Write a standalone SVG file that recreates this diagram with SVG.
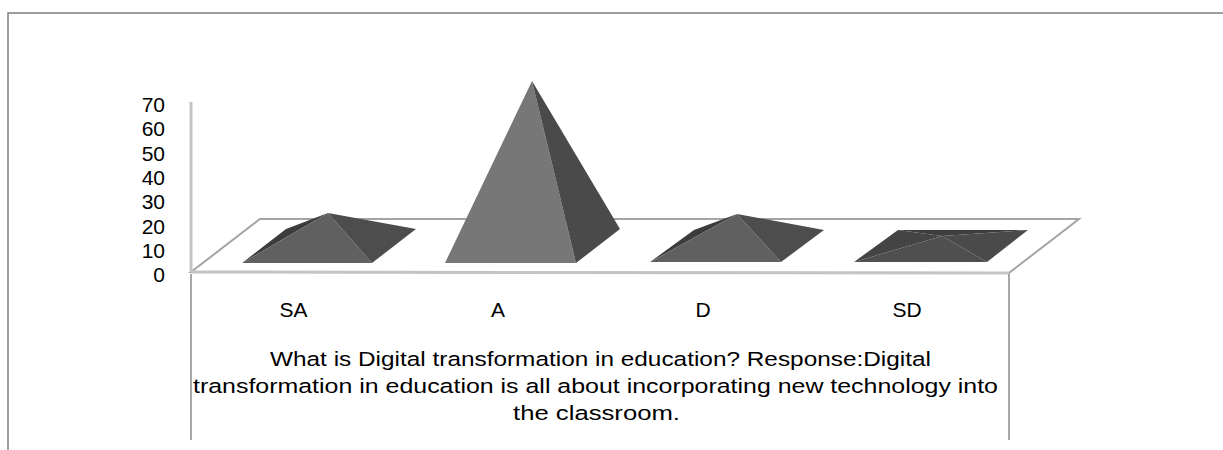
<svg xmlns="http://www.w3.org/2000/svg" width="1223" height="450" viewBox="0 0 1223 450">
<style>
text{font-family:"Liberation Sans",Arial,sans-serif;fill:#000;font-size:21px}
.ax{text-anchor:end}
.cat{text-anchor:middle}
.cap{text-anchor:middle;font-size:20.5px}
.frame{fill:none;stroke:#7f7f7f;stroke-width:1.5}
.floor{fill:#fff;stroke:#a4a4a4;stroke-width:2}
.grid{stroke:#8c8c8c;stroke-width:1.5;fill:none}
</style>
<rect width="1223" height="450" fill="#fff"/>
<g id="border"><path class="frame" d="M8,450 V13 H1223"/></g>
<g id="axes">
<polygon class="floor" points="191,272 260,219 1079,219 1009,273"/>
<line x1="191" y1="272" x2="1009" y2="273" stroke="#c4c4c4" stroke-width="3"/>
<line x1="191" y1="102" x2="191" y2="272" stroke="#c4c4c4" stroke-width="3"/>
<path class="grid" d="M191,274 V440 M1009,274 V440"/>
</g>
<g id="yaxis-labels">
<text class="ax" x="165" y="112">70</text>
<text class="ax" x="165" y="136.3">60</text>
<text class="ax" x="165" y="160.6">50</text>
<text class="ax" x="165" y="184.9">40</text>
<text class="ax" x="165" y="209.2">30</text>
<text class="ax" x="165" y="233.5">20</text>
<text class="ax" x="165" y="257.8">10</text>
<text class="ax" x="165" y="282">0</text>
</g>
<g id="pyramid-SA">
<polygon points="242,263 286,229 328,213" fill="#3c3c3c"/>
<polygon points="242,263 372,263 328,213" fill="#606060"/>
<polygon points="372,263 416,229 328,213" fill="#4d4d4d"/>
</g>
<g id="pyramid-A">
<polygon points="445,263 576,263 532,81" fill="#777777"/>
<polygon points="576,263 620,229 532,81" fill="#4a4a4a"/>
</g>
<g id="pyramid-D">
<polygon points="650,262 694,230 737,214" fill="#3c3c3c"/>
<polygon points="650,262 781,262 737,214" fill="#606060"/>
<polygon points="781,262 824,230 737,214" fill="#4d4d4d"/>
</g>
<g id="pyramid-SD">
<polygon points="898,230 1028,230 942,236" fill="#3e3e3e"/>
<polygon points="854,262 898,230 942,236" fill="#444444"/>
<polygon points="854,262 987,262 942,236" fill="#4f4f4f"/>
<polygon points="987,262 1028,230 942,236" fill="#4a4a4a"/>
</g>
<g id="category-labels">
<text class="cat" x="293.5" y="317">SA</text>
<text class="cat" x="498" y="317">A</text>
<text class="cat" x="703" y="317">D</text>
<text class="cat" x="907" y="317">SD</text>
</g>
<g id="caption">
<text class="cap" x="600.5" y="366" textLength="661" lengthAdjust="spacingAndGlyphs">What is Digital transformation in education? Response:Digital</text>
<text class="cap" x="595.5" y="393" textLength="805" lengthAdjust="spacingAndGlyphs">transformation in education is all about incorporating new technology into</text>
<text class="cap" x="596.5" y="420" textLength="167" lengthAdjust="spacingAndGlyphs">the classroom.</text>
</g>
</svg>
